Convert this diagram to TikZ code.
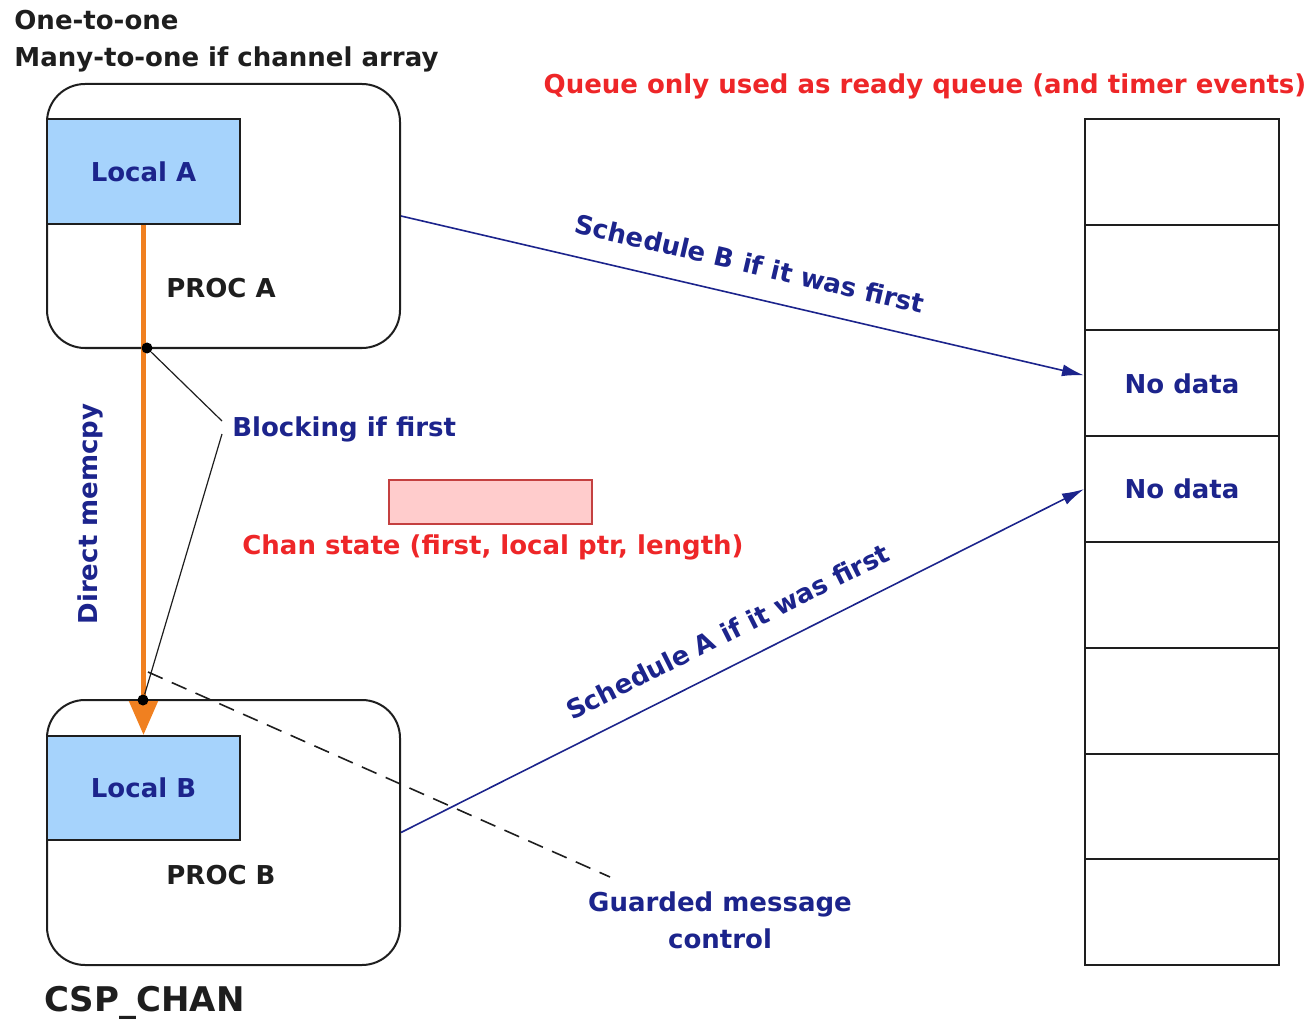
\documentclass[tikz,border=0pt]{standalone}
\usepackage{fontspec}
\setmainfont{DejaVu Sans}
\usetikzlibrary{arrows.meta,calc}

\definecolor{navy}{RGB}{28,36,140}
\definecolor{alertred}{RGB}{238,38,40}
\definecolor{copyorange}{RGB}{240,128,32}
\definecolor{localblue}{RGB}{166,211,252}
\definecolor{statepink}{RGB}{255,204,204}
\definecolor{stateedge}{RGB}{196,64,64}
\definecolor{ink}{RGB}{30,30,30}

\tikzset{
  lbl/.style={font=\fontsize{13}{16}\selectfont\bfseries, inner sep=0pt},
  procbox/.style={draw=ink, line width=1pt, rounded corners=19pt, minimum width=176.5pt, inner sep=0pt},
  localbox/.style={lbl, draw=ink, fill=localblue, line width=1pt, minimum width=96.5pt, minimum height=52.5pt, text=navy},
  cell/.style={lbl, draw=ink, line width=1pt, minimum width=97pt, minimum height=52.875pt, text=navy},
  statebox/.style={draw=stateedge, fill=statepink, line width=0.8pt, minimum width=101.5pt, minimum height=22pt, inner sep=0pt},
  sched/.style={draw=navy, line width=0.8pt, -{Latex[length=11pt,width=6pt]}},
  memcpy/.style={draw=copyorange, line width=2.5pt, -{Triangle[length=17pt,width=14pt]}},
  leader/.style={draw=ink, line width=0.6pt},
  guard/.style={draw=ink, line width=0.8pt, dash pattern=on 8pt off 5pt},
  dot/.style={circle, fill=black, inner sep=0pt, minimum size=5.5pt},
}

\begin{document}
\begin{tikzpicture}[x=0.5pt, y=-0.5pt]
\useasboundingbox (0,0) rectangle (1310,1021);

% heading
\node[lbl, text=ink, anchor=base west] (head1) at (14,30) {One-to-one};
\node[lbl, text=ink, anchor=base west] (head2) at (14,67) {Many-to-one if channel array};

% sending and receiving processes
\node[procbox, minimum height=132pt] (procA) at (223.5,216) {};
\node[localbox] (localA) at (143.5,171.5) {Local A};
\node[lbl, text=ink, anchor=base] (procAname) at (221,298) {PROC A};

\node[procbox, minimum height=132.5pt] (procB) at (223.5,832.5) {};
\node[localbox, minimum height=52pt] (localB) at (143.5,788) {Local B};
\node[lbl, text=ink, anchor=base] (procBname) at (221,884) {PROC B};

\node[lbl, text=ink, anchor=base west, font=\fontsize{17}{20}\selectfont\bfseries] (chan) at (44,1011) {CSP\_CHAN};

% ready queue
\node[lbl, text=alertred, anchor=base] (queuenote) at (925,94) {Queue only used as ready queue (and timer events)};
\node[cell] (q1) at (1182,171.875) {};
\node[cell] (q2) at (1182,277.625) {};
\node[cell] (q3) at (1182,383.375) {No data};
\node[cell] (q4) at (1182,489.125) {No data};
\node[cell] (q5) at (1182,594.875) {};
\node[cell] (q6) at (1182,700.625) {};
\node[cell] (q7) at (1182,806.375) {};
\node[cell] (q8) at (1182,912.125) {};

% channel state
\node[statebox] (chanstate) at (490.5,502) {};
\node[lbl, text=alertred, anchor=base] (chanlabel) at (493,554) {Chan state (first, local ptr, length)};

% direct copy between the locals
\draw[memcpy] (localA.south) -- (localB.north);
\node[lbl, text=navy, rotate=90] (memcpylabel) at (90,514) {Direct memcpy};

% blocking points
\node[dot] (d1) at (147,348) {};
\node[dot] (d2) at (143,700) {};
\node[lbl, text=navy, anchor=base west] (blocking) at (232,436) {Blocking if first};
\coordinate (b1) at (222,421);
\coordinate (b2) at (222,434);
\draw[leader] (d1) -- (b1);
\draw[leader] (b2) -- (d2);

% guarded message control
\coordinate (g1) at (148,672);
\coordinate (g2) at (610,877);
\draw[guard] (g1) -- (g2);
\node[lbl, text=navy, align=center, font=\fontsize{13}{18.5}\selectfont\bfseries] (guardlabel) at (720,920) {Guarded message\\control};

% scheduling
\coordinate (qB) at ($(q3.west)+(0,-8)$);
\draw[sched] (procA.east) -- (qB)
  node[lbl, text=navy, sloped, pos=0.50, above=11pt] (schedB) {Schedule B if it was first};
\draw[sched] (procB.east) -- (q4.west)
  node[lbl, text=navy, sloped, pos=0.50, above=11pt] (schedA) {Schedule A if it was first};
\end{tikzpicture}
\end{document}
